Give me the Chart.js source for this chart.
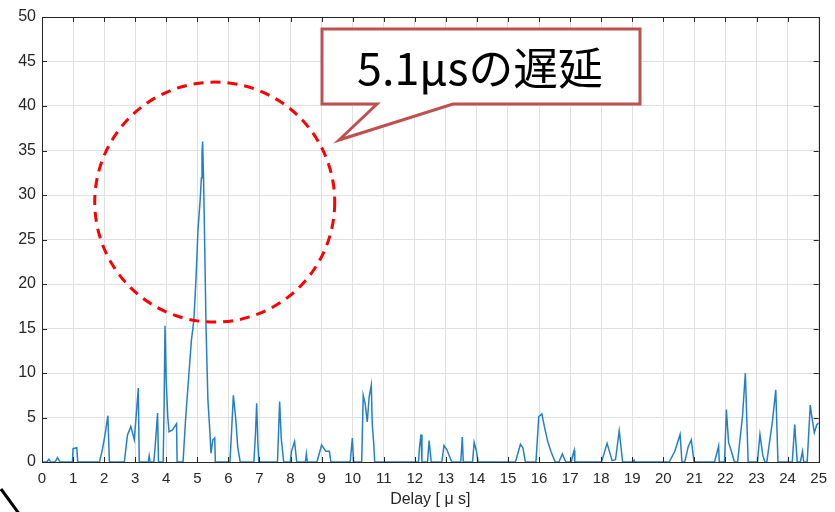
<!DOCTYPE html>
<html>
<head>
<meta charset="utf-8">
<script src="https://cdn.jsdelivr.net/npm/chart.js@4.4.1/dist/chart.umd.min.js"></script>
<style>
  html, body { margin: 0; padding: 0; background: #fff; }
  #wrap { width: 835px; height: 512px; }
</style>
</head>
<body>
<div id="wrap"><canvas id="chart" width="835" height="512"></canvas></div>
<script>
// Datos (retardo en µs, amplitud)
const delayUs = [
  0, 0.15, 0.22, 0.28, 0.42, 0.5, 0.58, 0.98, 1.0, 1.12, 1.15,
  1.85, 1.95, 2.05, 2.12, 2.17, 2.65, 2.75, 2.86, 2.97, 3.05, 3.1, 3.13,
  3.42, 3.45, 3.48, 3.6, 3.66, 3.72, 3.75, 3.9, 3.93, 3.96, 4.0, 4.05, 4.09, 4.2, 4.33, 4.35,
  4.54, 4.62, 4.73, 4.81, 4.89, 4.96, 5.02, 5.09, 5.13, 5.15, 5.17, 5.2, 5.24, 5.28, 5.34, 5.4, 5.44, 5.5, 5.56, 5.58,
  6.05, 6.11, 6.16, 6.24, 6.3, 6.38, 6.82, 6.87, 6.91, 6.95, 6.98,
  7.58, 7.65, 7.7, 7.78, 7.99, 8.03, 8.13, 8.2, 8.48, 8.51, 8.54,
  8.85, 9.0, 9.14, 9.25, 9.3, 9.92, 9.96, 9.99, 10.03,
  10.29, 10.34, 10.4, 10.47, 10.53, 10.6, 10.63, 10.68, 10.71,
  12.12, 12.15, 12.2, 12.23, 12.41, 12.46, 12.53, 12.87, 12.94, 13.03, 13.19,
  13.48, 13.53, 13.56, 13.86, 13.91, 13.98, 14.04,
  15.24, 15.4, 15.48, 15.56, 15.9, 15.99, 16.09, 16.17, 16.28, 16.38, 16.52,
  16.64, 16.75, 16.86, 17.04, 17.08, 17.13, 17.15,
  18.01, 18.19, 18.35, 18.46, 18.58, 18.69, 19.03, 19.06, 19.09,
  20.19, 20.37, 20.54, 20.6, 20.69, 20.8, 20.9, 20.99, 21.65, 21.78, 21.8,
  21.97, 22.03, 22.1, 22.19, 22.29, 22.39, 22.55, 22.64, 22.69, 22.73,
  23.03, 23.11, 23.2, 23.27, 23.33, 23.51, 23.62, 23.69,
  24.15, 24.23, 24.31, 24.41, 24.48, 24.52, 24.63, 24.73, 24.78, 24.86, 24.94, 25
];
const amplitude = [
  0, 0, 0.3, 0, 0, 0.5, 0, 0, 1.5, 1.6, 0,
  0, 1.5, 3.5, 5.2, 0, 0, 3.0, 4.0, 2.5, 6.0, 8.3, 0,
  0, 0.7, 0, 0, 2.5, 5.5, 0, 0, 6, 15.3, 9, 5, 3.4, 3.6, 4.3, 0,
  0, 4.7, 10, 13.7, 16, 20.8, 26, 29.4, 31.9, 34.7, 36, 32, 23.8, 15.2, 7, 3.6, 1, 2.5, 2.7, 0,
  0, 4, 7.5, 4.7, 1.7, 0, 0, 3, 6.6, 2, 0,
  0, 6.8, 2.7, 0, 0, 1.2, 2.3, 0, 0, 0.9, 0,
  0, 1.9, 1.2, 1.2, 0, 0, 1.5, 2.7, 0,
  0, 7.5, 6.6, 4.5, 7.3, 8.65, 4.3, 2, 0,
  0, 1.6, 3.1, 0, 0, 2.4, 0, 0, 1.85, 1.4, 0,
  0, 2.8, 0, 0, 2.2, 1.3, 0,
  0, 2.0, 1.6, 0, 0, 5.1, 5.4, 4.0, 2.3, 1.2, 0,
  0, 0.9, 0, 0, 0.7, 1.3, 0,
  0, 2.1, 0.15, 0.25, 3.5, 0, 0, 0.2, 0,
  0, 1.2, 3.1, 0, 0, 1.7, 2.5, 0, 0, 1.8, 0,
  0, 5.9, 2.2, 1.2, 0, 0, 5.2, 10, 4.5, 0,
  0, 3.1, 0.8, 0, 0, 4.5, 8.1, 0,
  0, 4.2, 0, 0, 1.2, 0, 0, 6.4, 5.1, 3.3, 4.2, 4.4
];
const xTicksMax = 25;
const yTicksMax = 50;
const calloutText = '5.1μsの遅延';
const xTitle = 'Delay [ μ s]';

const AXIS = '#262626';

// Ticks hacia adentro + caja (estilo MATLAB)
const boxPlugin = {
  id: 'box',
  afterDatasetsDraw(chart){
    const { ctx, chartArea: a, scales: { x, y } } = chart;
    ctx.save();
    ctx.strokeStyle = AXIS;
    ctx.lineWidth = 1;
    ctx.beginPath();
    for(let v = 0; v <= xTicksMax; v++){
      const px = Math.round(x.getPixelForValue(v)) + 0.5;
      ctx.moveTo(px, a.bottom); ctx.lineTo(px, a.bottom - 5);
      ctx.moveTo(px, a.top); ctx.lineTo(px, a.top + 5);
    }
    for(let v = 0; v <= yTicksMax; v += 5){
      const py = Math.round(y.getPixelForValue(v)) + 0.5;
      ctx.moveTo(a.left, py); ctx.lineTo(a.left + 5, py);
      ctx.moveTo(a.right, py); ctx.lineTo(a.right - 5, py);
    }
    ctx.stroke();
    ctx.strokeRect(Math.round(a.left) + 0.5, Math.round(a.top) + 0.5,
                   Math.round(a.right - a.left), Math.round(a.bottom - a.top));
    ctx.restore();
  }
};

// Anotaciones: círculo rojo, globo de texto y trazo negro
const notesPlugin = {
  id: 'notes',
  afterDraw(chart){
    const { ctx, scales: { x, y } } = chart;
    ctx.save();
    // círculo punteado
    ctx.strokeStyle = '#ff0000';
    ctx.lineWidth = 3;
    ctx.setLineDash([10, 7]);
    ctx.beginPath();
    ctx.arc(x.getPixelForValue(5.56), y.getPixelForValue(29.2), 120, 0, Math.PI * 2);
    ctx.stroke();
    ctx.setLineDash([]);

    // globo
    ctx.beginPath();
    ctx.moveTo(322, 29);
    ctx.lineTo(640, 29);
    ctx.lineTo(640, 104);
    ctx.lineTo(453, 104);
    ctx.lineTo(339, 140);
    ctx.lineTo(377, 104);
    ctx.lineTo(322, 104);
    ctx.closePath();
    ctx.fillStyle = '#ffffff';
    ctx.fill();
    ctx.strokeStyle = '#c0504d';
    ctx.lineWidth = 3;
    ctx.lineJoin = 'miter';
    ctx.stroke();

    let size = 42;
    ctx.font = `${size}px "Noto Sans CJK JP"`;
    const w = ctx.measureText(calloutText).width;
    size = size * 246 / w;
    ctx.font = `${size}px "Noto Sans CJK JP"`;
    ctx.fillStyle = '#000';
    ctx.textAlign = 'center';
    ctx.textBaseline = 'middle';
    ctx.fillText(calloutText, 480, 68);

    // trazo negro en la esquina
    ctx.strokeStyle = '#000';
    ctx.lineWidth = 3;
    ctx.beginPath();
    ctx.moveTo(1, 489);
    ctx.lineTo(20, 515);
    ctx.stroke();
    ctx.restore();
  }
};

const points = delayUs.map((d, i) => ({ x: d, y: amplitude[i] }));

new Chart(document.getElementById('chart').getContext('2d'), {
  type: 'line',
  data: {
    datasets: [{
      data: points,
      borderColor: '#2480c6',
      borderWidth: 1.5,
      pointRadius: 0,
      tension: 0,
      fill: false
    }]
  },
  options: {
    responsive: false,
    animation: false,
    layout: { padding: { top: 17, right: 10, left: 0, bottom: 0 } },
    plugins: { legend: { display: false }, tooltip: { enabled: false } },
    scales: {
      x: {
        type: 'linear', min: 0, max: xTicksMax,
        ticks: { stepSize: 1, color: AXIS, font: { family: 'Liberation Sans', size: 15 }, padding: 8, maxRotation: 0, autoSkip: false },
        grid: { color: '#e0e0e0', drawTicks: false },
        border: { display: false },
        title: { display: true, text: xTitle, color: AXIS, font: { family: 'Liberation Sans', size: 16 }, padding: { top: 4, bottom: 3 } },
        afterFit(s){ s.height = 50; }
      },
      y: {
        min: 0, max: yTicksMax,
        ticks: { stepSize: 5, color: AXIS, font: { family: 'Liberation Sans', size: 16 }, padding: 6 },
        grid: { color: '#e0e0e0', drawTicks: false },
        border: { display: false },
        afterFit(s){ s.width = 42; }
      }
    }
  },
  plugins: [boxPlugin, notesPlugin]
});
</script>
</body>
</html>
